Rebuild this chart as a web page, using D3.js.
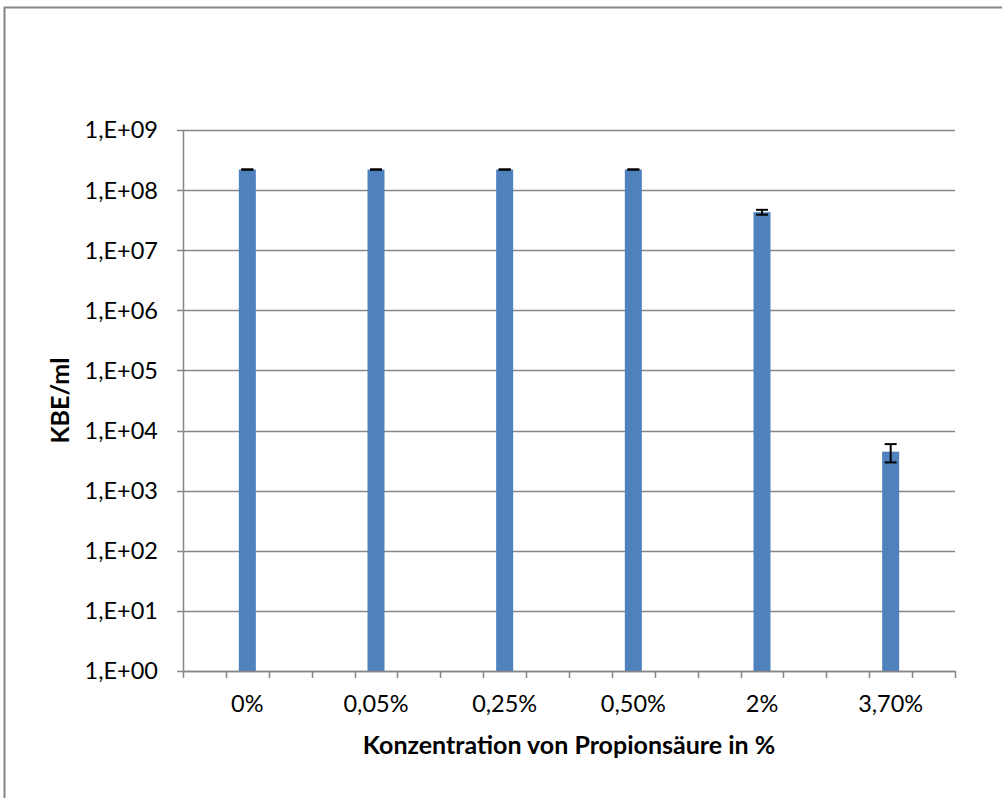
<!DOCTYPE html>
<html>
<head>
<meta charset="utf-8">
<script src="https://cdn.jsdelivr.net/npm/d3@7"></script>
<style>
  body { margin: 0; background: #fff; }
  text { font-family: Lato, "Open Sans", sans-serif; fill: #000; }
</style>
</head>
<body>
<script>
var w = 1002;
var h = 798;

// data
var categories = ["0%", "0,05%", "0,25%", "0,50%", "2%", "3,70%"];
var values = [2.2e8, 2.2e8, 2.2e8, 2.2e8, 4.3e7, 4.45e3];
var errors = [0, 0, 0, 0, 4e6, 1.5e3];
var yTicks = [1e0, 1e1, 1e2, 1e3, 1e4, 1e5, 1e6, 1e7, 1e8, 1e9];

var plotLeft = 183, plotRight = 955, plotTop = 130, plotBottom = 671;
var subPerCat = 3; // every category spans 3 axis slots, bar sits in the middle one
var grey = "#868686";

var svg = d3.select("body")
            .append("svg")
            .attr("width", w)
            .attr("height", h);

// outer frame
svg.append("rect")
   .attr("x", 4.5).attr("y", 7.5)
   .attr("width", 1010).attr("height", 810)
   .attr("fill", "none")
   .attr("stroke", grey)
   .attr("stroke-width", 2);

var xScale = d3.scaleBand()
               .domain(categories)
               .range([plotLeft, plotRight])
               .paddingInner(0);

var slotScale = d3.scaleLinear()
                  .domain([0, categories.length * subPerCat])
                  .range([plotLeft, plotRight]);

var yScale = d3.scaleLog()
               .domain([1, 1e9])
               .range([plotBottom, plotTop]);

// gridlines
svg.append("g")
   .selectAll("line")
   .data(yTicks)
   .enter()
   .append("line")
   .attr("x1", plotLeft - 6)
   .attr("x2", plotRight)
   .attr("y1", function (d) { return Math.round(yScale(d)) + 0.5; })
   .attr("y2", function (d) { return Math.round(yScale(d)) + 0.5; })
   .attr("stroke", grey)
   .attr("stroke-width", 1.5);

// y axis line
svg.append("line")
   .attr("x1", plotLeft + 0.5).attr("x2", plotLeft + 0.5)
   .attr("y1", plotTop).attr("y2", plotBottom)
   .attr("stroke", grey)
   .attr("stroke-width", 1.5);

// y tick labels
svg.append("g")
   .selectAll("text")
   .data(yTicks)
   .enter()
   .append("text")
   .attr("x", 158)
   .attr("y", function (d) { return yScale(d); })
   .attr("dy", "0.36em")
   .attr("text-anchor", "end")
   .style("font-size", "23.5px")
   .text(function (d) {
       var e = Math.round(Math.log10(d));
       return "1,E+" + (e < 10 ? "0" + e : e);
   });

// bars
var bw = 17;
svg.append("g")
   .selectAll("rect")
   .data(values)
   .enter()
   .append("rect")
   .attr("x", function (d, i) { return xScale(categories[i]) + xScale.bandwidth() / 2 - bw / 2; })
   .attr("y", function (d) { return yScale(d); })
   .attr("width", bw)
   .attr("height", function (d) { return plotBottom - yScale(d); })
   .attr("fill", "#4F81BD");

// x axis line + slot ticks
svg.append("line")
   .attr("x1", plotLeft).attr("x2", plotRight)
   .attr("y1", plotBottom + 0.5).attr("y2", plotBottom + 0.5)
   .attr("stroke", grey)
   .attr("stroke-width", 1.5);

svg.append("g")
   .selectAll("line")
   .data(d3.range(categories.length * subPerCat + 1))
   .enter()
   .append("line")
   .attr("x1", function (d) { return Math.round(slotScale(d)) + 0.5; })
   .attr("x2", function (d) { return Math.round(slotScale(d)) + 0.5; })
   .attr("y1", plotBottom)
   .attr("y2", plotBottom + 7)
   .attr("stroke", grey)
   .attr("stroke-width", 1.5);

// error bars
var cap = 6;
var eb = svg.append("g")
            .selectAll("g")
            .data(values)
            .enter()
            .append("g")
            .attr("stroke", "#000")
            .attr("stroke-width", 2);

eb.append("line")
  .attr("x1", function (d, i) { return xScale(categories[i]) + xScale.bandwidth() / 2; })
  .attr("x2", function (d, i) { return xScale(categories[i]) + xScale.bandwidth() / 2; })
  .attr("y1", function (d, i) { return yScale(d + errors[i]); })
  .attr("y2", function (d, i) { return yScale(d - errors[i]); });

eb.append("line")
  .attr("x1", function (d, i) { return xScale(categories[i]) + xScale.bandwidth() / 2 - cap; })
  .attr("x2", function (d, i) { return xScale(categories[i]) + xScale.bandwidth() / 2 + cap; })
  .attr("y1", function (d, i) { return yScale(d + errors[i]); })
  .attr("y2", function (d, i) { return yScale(d + errors[i]); });

eb.append("line")
  .attr("x1", function (d, i) { return xScale(categories[i]) + xScale.bandwidth() / 2 - cap; })
  .attr("x2", function (d, i) { return xScale(categories[i]) + xScale.bandwidth() / 2 + cap; })
  .attr("y1", function (d, i) { return yScale(d - errors[i]); })
  .attr("y2", function (d, i) { return yScale(d - errors[i]); });

// x labels
svg.append("g")
   .selectAll("text")
   .data(categories)
   .enter()
   .append("text")
   .attr("x", function (d) { return xScale(d) + xScale.bandwidth() / 2; })
   .attr("y", 712)
   .attr("text-anchor", "middle")
   .style("font-size", "23.5px")
   .text(function (d) { return d; });

// axis titles
svg.append("text")
   .attr("x", 569)
   .attr("y", 754)
   .attr("text-anchor", "middle")
   .style("font-size", "25px")
   .style("font-weight", "bold")
   .text("Konzentration von Propionsäure in %");

svg.append("text")
   .attr("transform", "translate(69," + ((plotTop + plotBottom) / 2) + ") rotate(-90)")
   .attr("text-anchor", "middle")
   .style("font-size", "25px")
   .style("font-weight", "bold")
   .text("KBE/ml");
</script>
</body>
</html>
